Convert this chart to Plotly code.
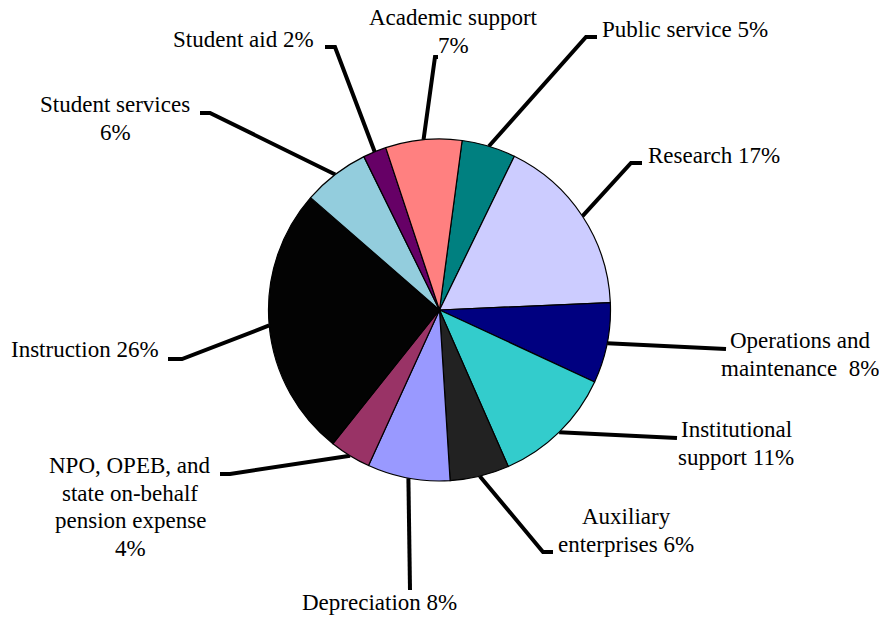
import math
import plotly.graph_objects as go

# ---- data ----
categories = ["Public service", "Research", "Operations and maintenance",
              "Institutional support", "Auxiliary enterprises", "Depreciation",
              "NPO, OPEB, and state on-behalf pension expense", "Instruction",
              "Student services", "Student aid", "Academic support"]
values = [5.1, 17.1, 7.6, 11.5, 5.6, 7.8, 3.9, 25.7, 6.3, 2.2, 7.2]
label_lines = [["Public service 5%"], ["Research 17%"],
               ["Operations and", "maintenance  8%"],
               ["Institutional", "support 11%"], ["Auxiliary", "enterprises 6%"],
               ["Depreciation 8%"],
               ["NPO, OPEB, and", "state on-behalf", "pension expense", "4%"],
               ["Instruction 26%"], ["Student services", "6%"], ["Student aid 2%"],
               ["Academic support", "7%"]]
colors = ["#008080", "#CCCCFF", "#000080", "#33CCCC", "#222222", "#9999FF",
          "#993366", "#030303", "#93CDDD", "#660066", "#FF8080"]

# ---- layout geometry (pixels) ----
W, H = 879, 618
CX, CY, R = 439.5, 310.0, 171.0
ROTATION = 7.6
FONT = "Liberation Serif"
FSIZE = 23
LINE_GAP = 27.7

# label placement: (x, first-line centre y, xanchor), elbow point, stub end
label_pos = [(600, 29.5, "left"), (646, 155, "left"), (800, 340.5, "center"),
             (736, 429.5, "center"), (626, 516.5, "center"), (379, 602.5, "center"),
             (130, 465.5, "center"), (85, 349.5, "center"), (115, 104.5, "center"),
             (243, 39.5, "center"), (453, 17.5, "center")]
elbows = [(586, 37), (631, 163), (716, 349), (670, 438), (543, 552), (410, 590),
          (230, 474), (182, 359), (210, 113), (335, 47), (435, 57)]
stub_ends = [(597, 37), (642, 163), (726, 349), (677, 438), (553, 552), (410, 590),
             (220, 474), (168, 359), (200, 113), (325, 47), (438, 57)]

total = sum(values)
lx, ly = [], []
cum = 0.0
for v, e, s in zip(values, elbows, stub_ends):
    a = math.radians(ROTATION + 360.0 * (cum + v / 2.0) / total)
    cum += v
    px = CX + R * math.sin(a)
    py = CY - R * math.cos(a)
    lx += [px, e[0], s[0], None]
    ly += [py, e[1], s[1], None]

fig = go.Figure()
fig.add_trace(go.Scatter(x=lx, y=ly, mode="lines",
                         line=dict(color="black", width=4),
                         hoverinfo="skip", showlegend=False))
fig.add_trace(go.Pie(labels=categories, values=values, sort=False,
                     direction="clockwise", rotation=ROTATION,
                     marker=dict(colors=colors, line=dict(color="black", width=1.2)),
                     textinfo="none", hoverinfo="label+percent", showlegend=False,
                     domain=dict(x=[(CX - R) / W, (CX + R) / W],
                                 y=[(H - CY - R) / H, (H - CY + R) / H])))

annotations = []
for lines, (x, y, xa) in zip(label_lines, label_pos):
    for k, t in enumerate(lines):
        annotations.append(dict(x=x, y=y + k * LINE_GAP, xref="x", yref="y", text=t,
                                showarrow=False, xanchor=xa, yanchor="middle",
                                font=dict(family=FONT, size=FSIZE, color="black")))

fig.update_layout(
    width=W, height=H,
    margin=dict(l=0, r=0, t=0, b=0),
    paper_bgcolor="white", plot_bgcolor="white",
    font=dict(family=FONT, size=FSIZE, color="black"),
    xaxis=dict(range=[0, W], visible=False, fixedrange=True),
    yaxis=dict(range=[H, 0], visible=False, fixedrange=True),
    annotations=annotations,
    showlegend=False,
)
fig.write_html("out.html", config={"displayModeBar": False},
               post_script="document.body.style.margin='0';")
